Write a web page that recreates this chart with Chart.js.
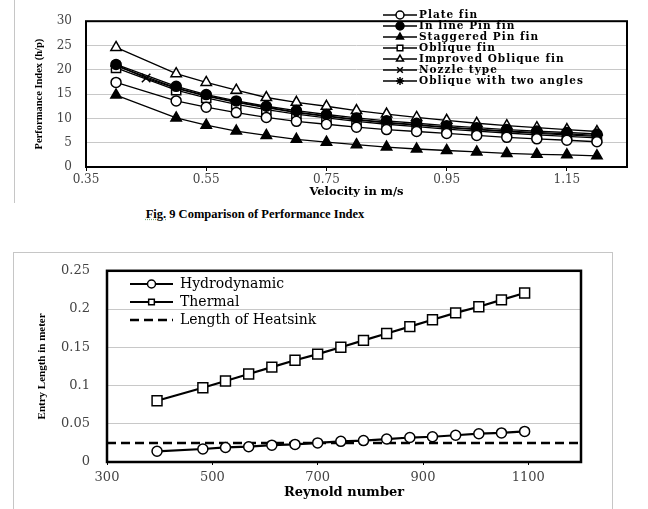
<!DOCTYPE html>
<html>
<head>
<meta charset="utf-8">
<script src="https://cdn.jsdelivr.net/npm/chart.js@4.4.0/dist/chart.umd.min.js"></script>
<style>
  body { margin:0; background:#fff; width:648px; height:509px; overflow:hidden; position:relative; }
  #topFrame { position:absolute; left:14px; top:0; height:203px; border-left:1px solid #c6c6c6; }
  #caption { position:absolute; left:0; width:510px; top:207px; text-align:center; font:bold 12.5px "Liberation Serif", serif; color:#000; }
  #caption span { text-decoration: underline dotted #7a7; }
  #bottomFrame { position:absolute; left:13px; top:252px; width:598px; height:300px; border:1px solid #c6c6c6; }
  canvas { position:absolute; left:0; }
</style>
</head>
<body>
<div id="topFrame"></div>
<div id="caption"><span>Fig.</span> 9 Comparison of Performance Index</div>
<div id="bottomFrame"></div>
<canvas id="topChart" width="648" height="205" style="top:0"></canvas>
<canvas id="bottomChart" width="648" height="263" style="top:246px"></canvas>
<script>
// ---- データ（上のグラフ：性能指数） ----
const velocity = [0.4, 0.5, 0.55, 0.6, 0.65, 0.7, 0.75, 0.8, 0.85, 0.9, 0.95, 1.0, 1.05, 1.1, 1.15, 1.2];
const nozzleVelocity = [0.4, 0.45, 0.5, 0.55, 0.6, 0.65, 0.7, 0.75, 0.8, 0.85, 0.9, 0.95, 1.0, 1.05, 1.1, 1.15, 1.2];
const plateFin = [17.4, 13.6, 12.3, 11.2, 10.2, 9.4, 8.8, 8.2, 7.7, 7.3, 6.9, 6.5, 6.1, 5.8, 5.5, 5.2];
const inlinePinFin = [21.1, 16.6, 14.9, 13.6, 12.5, 11.6, 10.8, 10.1, 9.5, 9.0, 8.5, 8.1, 7.7, 7.4, 7.1, 6.8];
const staggeredPinFin = [14.8, 10.1, 8.6, 7.4, 6.5, 5.7, 5.1, 4.6, 4.1, 3.7, 3.4, 3.1, 2.8, 2.6, 2.5, 2.3];
const obliqueFin = [20.4, 15.8, 14.2, 12.9, 11.8, 10.9, 10.1, 9.4, 8.8, 8.3, 7.8, 7.4, 7.0, 6.6, 6.3, 6.0];
const improvedOblique = [24.6, 19.2, 17.4, 15.8, 14.3, 13.3, 12.5, 11.6, 10.9, 10.2, 9.6, 9.0, 8.5, 8.1, 7.7, 7.3];
const nozzleType = [21.0, 18.3, 16.2, 14.6, 13.3, 12.2, 11.2, 10.4, 9.7, 9.1, 8.6, 8.1, 7.7, 7.3, 6.9, 6.6, 6.3];
const twoAngles = [20.8, 16.3, 14.7, 13.4, 12.3, 11.3, 10.5, 9.8, 9.2, 8.7, 8.2, 7.8, 7.4, 7.1, 6.8, 6.5];
const velocityTicks = [0.35, 0.55, 0.75, 0.95, 1.15];
const indexTicks = [0, 5, 10, 15, 20, 25, 30];

// ---- データ（下のグラフ：助走区間長さ） ----
const reynolds = [395, 482, 525, 569, 613, 657, 700, 744, 787, 831, 875, 918, 962, 1006, 1049, 1093];
const hydrodynamic = [0.014, 0.017, 0.019, 0.020, 0.022, 0.023, 0.025, 0.027, 0.028, 0.030, 0.032, 0.033, 0.035, 0.037, 0.038, 0.040];
const thermal = [0.080, 0.097, 0.106, 0.115, 0.124, 0.133, 0.141, 0.150, 0.159, 0.168, 0.177, 0.186, 0.195, 0.203, 0.212, 0.221];
const heatsinkRe = [300, 1200];
const heatsinkLength = [0.025, 0.025];
const reynoldsTicks = [300, 500, 700, 900, 1100];
const lengthTicks = [0, 0.05, 0.1, 0.15, 0.2, 0.25];

function series(label, xs, ys, style, fill, radius, lineWidth) {
  return {
    label,
    data: xs.map((x, i) => ({ x, y: ys[i] })),
    borderColor: '#000',
    borderWidth: lineWidth,
    pointStyle: style,
    pointRadius: radius,
    pointBackgroundColor: fill,
    pointBorderColor: '#000',
    pointBorderWidth: 1.5,
    tension: 0
  };
}

// プロットエリアの黒枠
const plotBorder = {
  id: 'plotBorder',
  beforeDatasetsDraw(chart, args, opts) {
    const { ctx, chartArea: a } = chart;
    ctx.save();
    ctx.strokeStyle = '#000';
    ctx.lineWidth = opts.width;
    ctx.strokeRect(a.left, a.top, a.right - a.left, a.bottom - a.top);
    ctx.restore();
  }
};

// グラフ内の凡例
const boxLegend = {
  id: 'boxLegend',
  afterDraw(chart, args, opts) {
    const ctx = chart.ctx;
    ctx.save();
    ctx.font = opts.font;
    ctx.textBaseline = 'middle';
    chart.data.datasets.forEach((ds, i) => {
      const y = opts.y + i * opts.rowHeight;
      ctx.strokeStyle = '#000';
      ctx.lineWidth = ds.borderWidth;
      ctx.setLineDash(ds.borderDash || []);
      ctx.beginPath();
      ctx.moveTo(opts.x, y);
      ctx.lineTo(opts.x + opts.lineLength, y);
      ctx.stroke();
      ctx.setLineDash([]);
      if (ds.pointRadius > 0) {
        ctx.fillStyle = ds.pointBackgroundColor;
        ctx.lineWidth = ds.pointBorderWidth;
        Chart.helpers.drawPoint(ctx, {
          pointStyle: ds.pointStyle,
          radius: opts.pointRadius || ds.pointRadius,
          rotation: 0,
          borderWidth: ds.pointBorderWidth
        }, opts.x + opts.lineLength / 2, y);
      }
      ctx.fillStyle = '#000';
      if (opts.letterSpacing) ctx.letterSpacing = opts.letterSpacing;
      ctx.fillText(ds.label, opts.x + opts.lineLength + opts.gap, y);
      ctx.letterSpacing = '0px';
    });
    ctx.restore();
  }
};

const tickFont = (size) => ({ family: 'DejaVu Serif', size });

//上のグラフここから
new Chart(document.getElementById('topChart'), {
  type: 'line',
  data: {
    datasets: [
      series('Plate fin', velocity, plateFin, 'circle', '#fff', 5, 1.3),
      series('In line Pin fin', velocity, inlinePinFin, 'circle', '#000', 5, 1.3),
      series('Staggered Pin fin', velocity, staggeredPinFin, 'triangle', '#000', 6, 1.3),
      series('Oblique fin', velocity, obliqueFin, 'rect', '#fff', 6.5, 1.3),
      series('Improved Oblique fin', velocity, improvedOblique, 'triangle', '#fff', 6, 1.3),
      series('Nozzle type', nozzleVelocity, nozzleType, 'crossRot', '#000', 6, 1.3),
      series('Oblique with two angles', velocity, twoAngles, 'star', '#000', 6, 1.3)
    ]
  },
  options: {
    responsive: false,
    animation: false,
    layout: { padding: { top: 8, right: 21, left: 0, bottom: 0 } },
    plugins: {
      legend: { display: false },
      tooltip: { enabled: false },
      plotBorder: { width: 2 },
      boxLegend: { x: 383, y: 15, rowHeight: 11, lineLength: 34, gap: 2, pointRadius: 4, font: 'bold 10.5px "DejaVu Serif"', letterSpacing: '1px' }
    },
    scales: {
      x: {
        type: 'linear',
        min: 0.35,
        max: 1.25,
        afterBuildTicks: (s) => { s.ticks = velocityTicks.map(v => ({ value: v })); },
        afterFit: (s) => { s.height = 38; },
        border: { display: false },
        grid: { drawOnChartArea: false, drawTicks: true, tickLength: 4, color: '#000' },
        ticks: { padding: 2, color: '#444', font: tickFont(12), maxRotation: 0, autoSkip: false, callback: (v) => v.toFixed(2) },
        title: { display: true, text: 'Velocity in m/s', color: '#000', font: { family: 'DejaVu Serif', size: 11.5, weight: 'bold' }, padding: { top: 0, bottom: 6 } }
      },
      y: {
        min: 0,
        max: 30,
        afterBuildTicks: (s) => { s.ticks = indexTicks.map(v => ({ value: v })); },
        afterFit: (s) => { s.width = 86; },
        border: { display: false },
        grid: { color: '#c8c8c8', drawTicks: false },
        ticks: { padding: 14, color: '#444', font: tickFont(12) },
        title: { display: true, text: 'Performance Index (h/p)', color: '#000', font: { family: 'Liberation Serif', size: 10.5, weight: 'bold' }, padding: { top: 33, bottom: 0 } }
      }
    }
  },
  plugins: [plotBorder, boxLegend]
});
//上のグラフここまで

//下のグラフここから
const heatsink = series('Length of Heatsink', heatsinkRe, heatsinkLength, 'circle', '#fff', 0, 2.5);
heatsink.borderDash = [9, 5];

new Chart(document.getElementById('bottomChart'), {
  type: 'line',
  data: {
    datasets: [
      series('Hydrodynamic', reynolds, hydrodynamic, 'circle', '#fff', 5, 2.2),
      series('Thermal', reynolds, thermal, 'rect', '#fff', 7, 2.2),
      heatsink
    ]
  },
  options: {
    responsive: false,
    animation: false,
    layout: { padding: { top: 20, right: 67, left: 0, bottom: 0 } },
    plugins: {
      legend: { display: false },
      tooltip: { enabled: false },
      plotBorder: { width: 2.5 },
      boxLegend: { x: 130, y: 38, rowHeight: 18, lineLength: 43, gap: 7, pointRadius: 4, font: '14px "DejaVu Serif"' }
    },
    scales: {
      x: {
        type: 'linear',
        min: 300,
        max: 1200,
        afterBuildTicks: (s) => { s.ticks = reynoldsTicks.map(v => ({ value: v })); },
        afterFit: (s) => { s.height = 47; },
        border: { display: false },
        grid: { drawOnChartArea: false, drawTicks: true, tickLength: 3, color: '#000' },
        ticks: { padding: 5, color: '#444', font: tickFont(13), maxRotation: 0, autoSkip: false, callback: (v) => String(v) },
        title: { display: true, text: 'Reynold number', color: '#000', font: { family: 'DejaVu Serif', size: 13, weight: 'bold' }, padding: { top: 0, bottom: 9 } }
      },
      y: {
        min: 0,
        max: 0.25,
        afterBuildTicks: (s) => { s.ticks = lengthTicks.map(v => ({ value: v })); },
        afterFit: (s) => { s.width = 107; },
        border: { display: false },
        grid: { color: '#c8c8c8', drawTicks: false },
        ticks: { padding: 17, color: '#444', font: tickFont(13), callback: (v) => String(parseFloat(v.toFixed(2))) },
        title: { display: true, text: 'Entry Length in meter', color: '#000', font: { family: 'Liberation Serif', size: 11, weight: 'bold' }, padding: { top: 36, bottom: 0 } }
      }
    }
  },
  plugins: [plotBorder, boxLegend]
});
//下のグラフここまで
</script>
</body>
</html>
